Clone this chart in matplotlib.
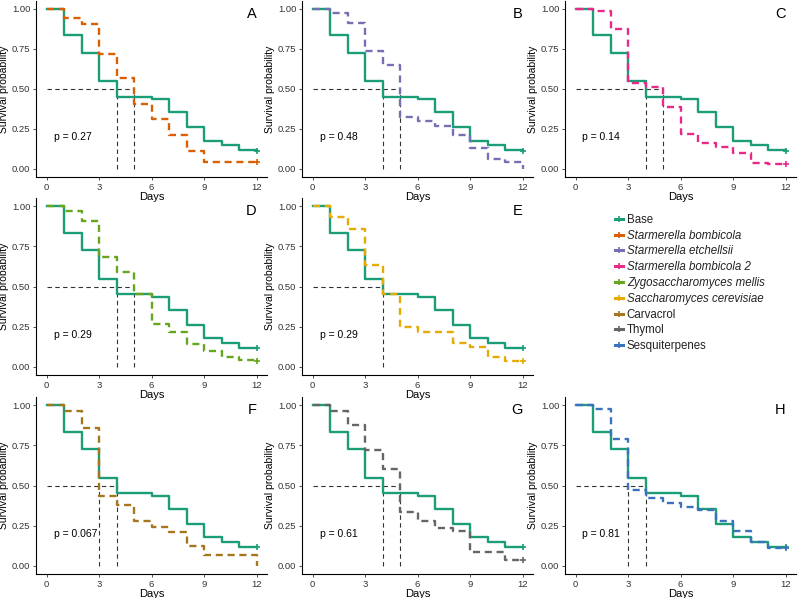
import matplotlib
matplotlib.use("Agg")
import matplotlib.pyplot as plt
from matplotlib.lines import Line2D
import numpy as np

plt.rcParams['font.family'] = ['Liberation Sans', 'DejaVu Sans']

days = list(range(13))
base = [1.0, 0.835, 0.725, 0.548, 0.452, 0.452, 0.437, 0.355, 0.26, 0.178, 0.15, 0.12, 0.115]

s_bombicola = [1.0, 0.945, 0.905, 0.72, 0.57, 0.405, 0.31, 0.21, 0.11, 0.045, 0.045, 0.045, 0.045]
s_etchellsii = [1.0, 0.975, 0.915, 0.735, 0.65, 0.325, 0.30, 0.27, 0.215, 0.13, 0.06, 0.045, 0.0]
s_bombicola2 = [1.0, 0.99, 0.875, 0.54, 0.515, 0.39, 0.22, 0.165, 0.14, 0.10, 0.04, 0.03, 0.03]
z_mellis = [1.0, 0.97, 0.905, 0.685, 0.59, 0.455, 0.265, 0.22, 0.14, 0.10, 0.06, 0.045, 0.035]
s_cerevisiae = [1.0, 0.93, 0.86, 0.635, 0.455, 0.25, 0.22, 0.22, 0.15, 0.125, 0.06, 0.04, 0.04]
carvacrol = [1.0, 0.96, 0.86, 0.435, 0.38, 0.28, 0.24, 0.21, 0.125, 0.07, 0.07, 0.07, 0.0]
thymol = [1.0, 0.96, 0.875, 0.72, 0.60, 0.335, 0.28, 0.235, 0.22, 0.085, 0.085, 0.04, 0.04]
sesquiterpenes = [1.0, 0.975, 0.79, 0.475, 0.42, 0.39, 0.365, 0.345, 0.28, 0.22, 0.15, 0.11, 0.11]

panel_letters = ["A", "B", "C", "D", "E", "F", "G", "H"]
treatments = ["Starmerella bombicola", "Starmerella etchellsii", "Starmerella bombicola 2",
              "Zygosaccharomyces mellis", "Saccharomyces cerevisiae", "Carvacrol", "Thymol",
              "Sesquiterpenes"]
treat_values = [s_bombicola, s_etchellsii, s_bombicola2, z_mellis, s_cerevisiae,
                carvacrol, thymol, sesquiterpenes]
p_values = ["p = 0.27", "p = 0.48", "p = 0.14", "p = 0.29", "p = 0.29", "p = 0.067",
            "p = 0.61", "p = 0.81"]
base_median = 4
treat_medians = [5, 5, 5, 5, 4, 3, 5, 3]
censored_end = [True, False, True, True, True, False, True, True]

colors = ["#1B9E77", "#D95F02", "#7570B3", "#E7298A", "#66A61E", "#E6AB02",
          "#A6761D", "#666666", "#3A72BE"]
italic = [False, True, True, True, True, True, False, False, False]

fig = plt.figure(figsize=(7.98, 5.98), dpi=100)
W, H = 798, 598
cols_px = [(36, 267), (302, 533), (565, 796)]
rows_px = [(1, 177), (198, 375), (397, 574)]

slots = [(0, 0), (0, 1), (0, 2), (1, 0), (1, 1), (2, 0), (2, 1), (2, 2)]

for k, (r, c) in enumerate(slots):
    x0, x1 = cols_px[c]
    y0, y1 = rows_px[r]
    ax = fig.add_axes([x0 / W, 1 - y1 / H, (x1 - x0) / W, (y1 - y0) / H])
    ax.patch.set_alpha(0)
    ax.set_xlim(-0.6, 12.6)
    ax.set_ylim(-0.05, 1.05)
    # median lines
    meds = [base_median, treat_medians[k]]
    ax.plot([0, max(meds)], [0.5, 0.5], ls=(0, (4, 3)), color="#333333", lw=0.8, zorder=1)
    for m in sorted(set(meds)):
        ax.plot([m, m], [0, 0.5], ls=(0, (4, 3)), color="#333333", lw=0.8, zorder=1)
    # base
    ax.step(days, base, where="post", color=colors[0], lw=1.7, zorder=2)
    ax.plot([12], [base[-1]], marker="+", color=colors[0], ms=5, mew=1.2, zorder=2)
    # treatment
    col = colors[k + 1]
    ax.step(days, treat_values[k], where="post", color=col, lw=1.7, ls=(0, (3, 2)), zorder=3)
    if censored_end[k]:
        ax.plot([12], [treat_values[k][-1]], marker="+", color=col, ms=5, mew=1.2, zorder=3)
    ax.set_xticks([0, 3, 6, 9, 12])
    ax.set_yticks([0, 0.25, 0.5, 0.75, 1.0])
    ax.set_yticklabels(["0.00", "0.25", "0.50", "0.75", "1.00"])
    ax.tick_params(labelsize=6.8, length=2.5, width=0.6, colors="#333333", pad=1.5)
    for lab in ax.get_xticklabels() + ax.get_yticklabels():
        lab.set_color("#333333")
    for s in ["top", "right"]:
        ax.spines[s].set_visible(False)
    for s in ["left", "bottom"]:
        ax.spines[s].set_linewidth(0.8)
        ax.spines[s].set_color("black")
    ax.set_xlabel("Days", fontsize=8, labelpad=0)
    ax.set_ylabel("Survival probability", fontsize=7.5, labelpad=2)
    ax.text(0.955, 0.965, panel_letters[k], transform=ax.transAxes, ha="right", va="top",
            fontsize=10.5)
    ax.text(0.4, 0.2, p_values[k], fontsize=7.5, ha="left", va="center")

# legend
handles = []
labels = ["Base"] + treatments
for i, lab in enumerate(labels):
    handles.append(Line2D([0], [0], color=colors[i], lw=2.2, marker="+", ms=4, mew=1.2))
leg = fig.legend(handles, labels, loc="upper left", bbox_to_anchor=(609 / W, 1 - 208 / H),
                 frameon=False, fontsize=8.3, handlelength=0.75, handletextpad=0.3,
                 labelspacing=0.33, borderpad=0)
for t, it in zip(leg.get_texts(), italic):
    if it:
        t.set_style("italic")
    t.set_color("#222222")

fig.savefig("out.png", dpi=100)
